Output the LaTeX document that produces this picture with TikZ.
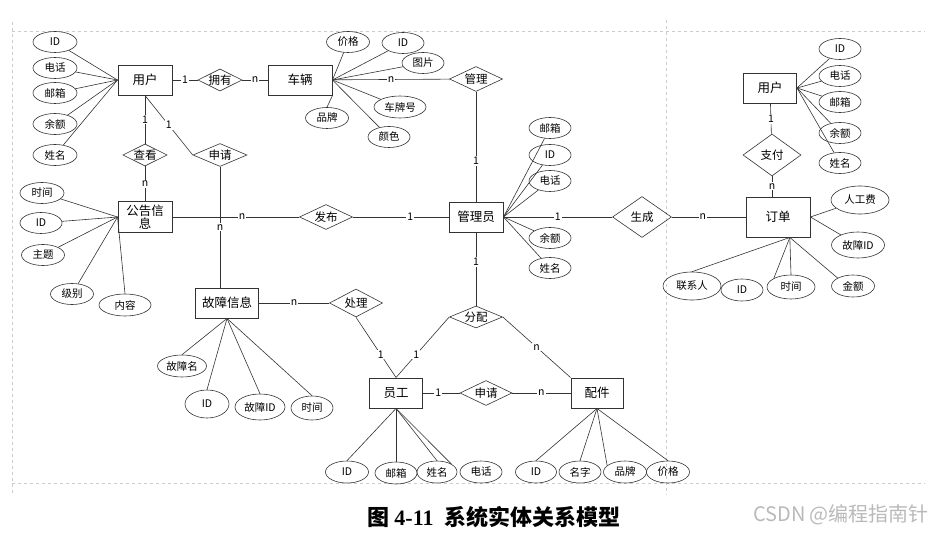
\documentclass[tikz,border=0pt]{standalone}
\usepackage{fontspec}
\setmainfont{Noto Sans CJK SC}
\newfontfamily\capserif{Liberation Serif}
\usetikzlibrary{shapes.geometric}

\begin{document}
\begin{tikzpicture}[
x=1pt, y=-1pt,
line width=0.6pt, draw=black!80,
entity/.style={draw, line width=0.95pt, minimum width=54pt, minimum height=30pt, inner sep=1pt, align=center, font=\fontsize{12.5}{13.5}\selectfont},
attr/.style={draw, ellipse, minimum width=42pt, minimum height=21pt, inner sep=0pt, font=\fontsize{10.5}{12}\selectfont},
rel/.style={draw, diamond, aspect=2, minimum width=53pt, minimum height=24pt, inner sep=0pt, font=\fontsize{11.5}{12}\selectfont},
lab/.style={fill=white, inner sep=1pt, font=\fontsize{10.5}{10.5}\selectfont},
frame/.style={dashed, gray!40, line width=0.6pt}
]
\useasboundingbox (0,0) rectangle (947,537);

% frame
\draw[frame] (12,31) -- (925,31);
\draw[frame] (12,483) -- (925,483);
\draw[frame] (12,22) -- (12,495);
\draw[frame] (666,20) -- (666,495);

% entities
\node[entity] (user) at (145,80) {用户};
\node[entity, minimum width=64pt] (car) at (300,80) {车辆};
\node[entity, minimum height=31pt] (notice) at (145,217) {公告信\\息};
\node[entity] (admin) at (476,217) {管理员};
\node[entity, minimum width=63pt] (fault) at (227,303) {故障信息};
\node[entity, minimum width=53pt] (staff) at (396,393) {员工};
\node[entity, minimum width=52pt] (part) at (597,393) {配件};
\node[entity, minimum width=53pt] (user2) at (770,88) {用户};
\node[entity, minimum width=64pt, minimum height=40pt] (order) at (778,217) {订单};

% relations
\node[rel, minimum width=44pt, minimum height=21pt] (owns) at (220,80) {拥有};
\node[rel, minimum width=44pt, minimum height=22pt] (view) at (145,155) {查看};
\node[rel, minimum width=54pt, minimum height=23pt] (apply) at (220,155) {申请};
\node[rel, minimum height=25pt] (manage) at (476,79) {管理};
\node[rel, minimum height=25pt] (publish) at (326,217) {发布};
\node[rel, aspect=1.4, minimum width=59pt, minimum height=41pt] (create) at (642,217) {生成};
\node[rel, aspect=1.4, minimum width=58pt, minimum height=42pt] (pay) at (772,155) {支付};
\node[rel, minimum height=28pt] (handle) at (356,303) {处理};
\node[rel, minimum height=22pt] (assign) at (476,317) {分配};
\node[rel, minimum width=52pt, minimum height=25pt] (req) at (486,393) {申请};

% attributes of user
\node[attr, minimum width=44pt] (uid) at (55,42) {ID};
\node[attr, minimum width=44pt] (utel) at (55,68) {电话};
\node[attr, minimum width=44pt] (umail) at (55,93) {邮箱};
\node[attr, minimum width=44pt] (ubal) at (55,124) {余额};
\node[attr, minimum width=44pt] (uname) at (55,155) {姓名};

% attributes of car
\node[attr, minimum width=43pt] (cprice) at (348,42) {价格};
\node[attr] (cid) at (403,43) {ID};
\node[attr] (cpic) at (423,63) {图片};
\node[attr, minimum width=52pt, minimum height=22pt] (cplate) at (400,107) {车牌号};
\node[attr] (ccolor) at (389,137) {颜色};
\node[attr, minimum width=43pt] (cbrand) at (327,118) {品牌};

% attributes of admin
\node[attr] (amail) at (550,128) {邮箱};
\node[attr] (aid) at (550,155) {ID};
\node[attr] (atel) at (550,181) {电话};
\node[attr] (abal) at (550,238) {余额};
\node[attr] (aname) at (550,268) {姓名};

% attributes of notice
\node[attr, minimum width=44pt] (ntime) at (42,193) {时间};
\node[attr] (nid) at (41,223) {ID};
\node[attr, minimum width=43pt] (ntopic) at (43,255) {主题};
\node[attr, minimum width=43pt] (nlevel) at (72,294) {级别};
\node[attr, minimum width=52pt, minimum height=22pt] (ntext) at (125,305) {内容};

% attributes of fault
\node[attr, minimum width=49pt, minimum height=22pt] (fname) at (182,366) {故障名};
\node[attr, minimum width=44pt, minimum height=28pt] (fid) at (207,404) {ID};
\node[attr, minimum width=50pt, minimum height=26pt] (fcode) at (260,407) {故障ID};
\node[attr, minimum height=24pt] (ftime) at (312,408) {时间};

% attributes of staff
\node[attr, minimum width=43pt, minimum height=22pt] (sid) at (347,472) {ID};
\node[attr, minimum height=22pt] (smail) at (396,473) {邮箱};
\node[attr, minimum width=40pt, minimum height=22pt] (sname) at (437,472) {姓名};
\node[attr, minimum height=22pt] (stel) at (481,472) {电话};

% attributes of part
\node[attr, minimum width=41pt, minimum height=22pt] (pid) at (536,472) {ID};
\node[attr, minimum height=22pt] (pname) at (580,472) {名字};
\node[attr, minimum width=43pt, minimum height=22pt] (pbrand) at (625,472) {品牌};
\node[attr, minimum width=43pt, minimum height=22pt] (pprice) at (668,472) {价格};

% attributes of user2
\node[attr] (vid) at (840,49) {ID};
\node[attr] (vtel) at (840,76) {电话};
\node[attr] (vmail) at (840,102) {邮箱};
\node[attr] (vbal) at (840,133) {余额};
\node[attr] (vname) at (840,163) {姓名};

% attributes of order
\node[attr, minimum width=58pt, minimum height=28pt] (ofee) at (860,200) {人工费};
\node[attr, minimum width=53pt, minimum height=26pt] (ofid) at (858,245) {故障ID};
\node[attr, minimum width=43pt, minimum height=22pt] (oamt) at (853,286) {金额};
\node[attr, minimum width=48pt, minimum height=24pt] (otime) at (791,287) {时间};
\node[attr, minimum height=22pt] (oid) at (742,290) {ID};
\node[attr, minimum width=58pt, minimum height=28pt] (ocontact) at (692,286) {联系人};

% attribute lines
\foreach \a in {uid,utel,umail,ubal,uname} \draw (user.west) -- (\a);
\foreach \a in {cprice,cid,cpic,cplate,ccolor} \draw (car.east) -- (\a);
\draw (car.south east) -- (cbrand.north);
\foreach \a in {amail,aid,atel,abal,aname} \draw (admin.east) -- (\a);
\foreach \a in {ntime,nid,ntopic,nlevel} \draw (notice.west) -- (\a);
\draw (notice.west) -- (ntext.north);
\draw (fault.south) -- (fname.north);
\foreach \a in {fid,fcode,ftime} \draw (fault.south) -- (\a.north);
\draw (staff.south) -- (sid.north);
\draw (staff.south) -- (smail.north);
\draw (staff.south) -- (sname.north);
\draw (staff.south) -- (sname.north east);
\draw (part.south) -- (pid.north);
\draw (part.south) -- (pname.north);
\draw (part.south) -- (pbrand.160);
\draw (part.south) -- (pprice.north);
\foreach \a in {vid,vtel,vmail,vbal,vname} \draw (user2.east) -- (\a);
\draw (order.east) -- (ofee);
\draw (order.east) -- (ofid);
\draw (order.300) -- (ocontact.north);
\draw (order.300) -- (otime.north west);
\draw (order.300) -- (otime.north);
\draw (order.300) -- (oamt.north west);

% relation lines
\draw (user) -- node[lab]{1} (owns);
\draw (owns) -- node[lab]{n} (car);
\draw (car) -- node[lab]{n} (manage);
\draw (manage) -- node[lab, pos=0.63]{1} (admin);
\draw (user) -- node[lab]{1} (view);
\draw (view) -- node[lab]{n} (notice);
\draw (user.south) -- node[lab]{1} (apply.west);
\draw (notice) -- node[lab, pos=0.55]{n} (publish);
\draw (apply.south) -- node[lab]{n} (apply.south |- fault.north);
\draw (publish) -- node[lab, pos=0.6]{1} (admin);
\draw (admin) -- node[lab]{1} (create);
\draw (create) -- node[lab, pos=0.42]{n} (order);
\draw (user2) -- node[lab]{1} (pay);
\draw (pay) -- node[lab]{n} (pay |- order.north);
\draw (fault) -- node[lab]{n} (handle);
\draw (handle.south) -- node[lab, pos=0.62]{1} (staff.north);
\draw (assign.west) -- node[lab, pos=0.62]{1} (staff.north);
\draw (admin) -- node[lab, pos=0.4]{1} (assign);
\draw (assign.east) -- node[lab]{n} (part.north west);
\draw (staff) -- node[lab, pos=0.42]{1} (req);
\draw (req) -- node[lab]{n} (part);

% caption
\node[font=\fontsize{22}{22}\selectfont\bfseries] (cap) at (494,517) {图 {\capserif 4-11}\enspace 系统实体关系模型};
\node[font=\fontsize{20}{20}\selectfont, text=gray!55] (mark) at (841,515) {CSDN @编程指南针};
\end{tikzpicture}
\end{document}
